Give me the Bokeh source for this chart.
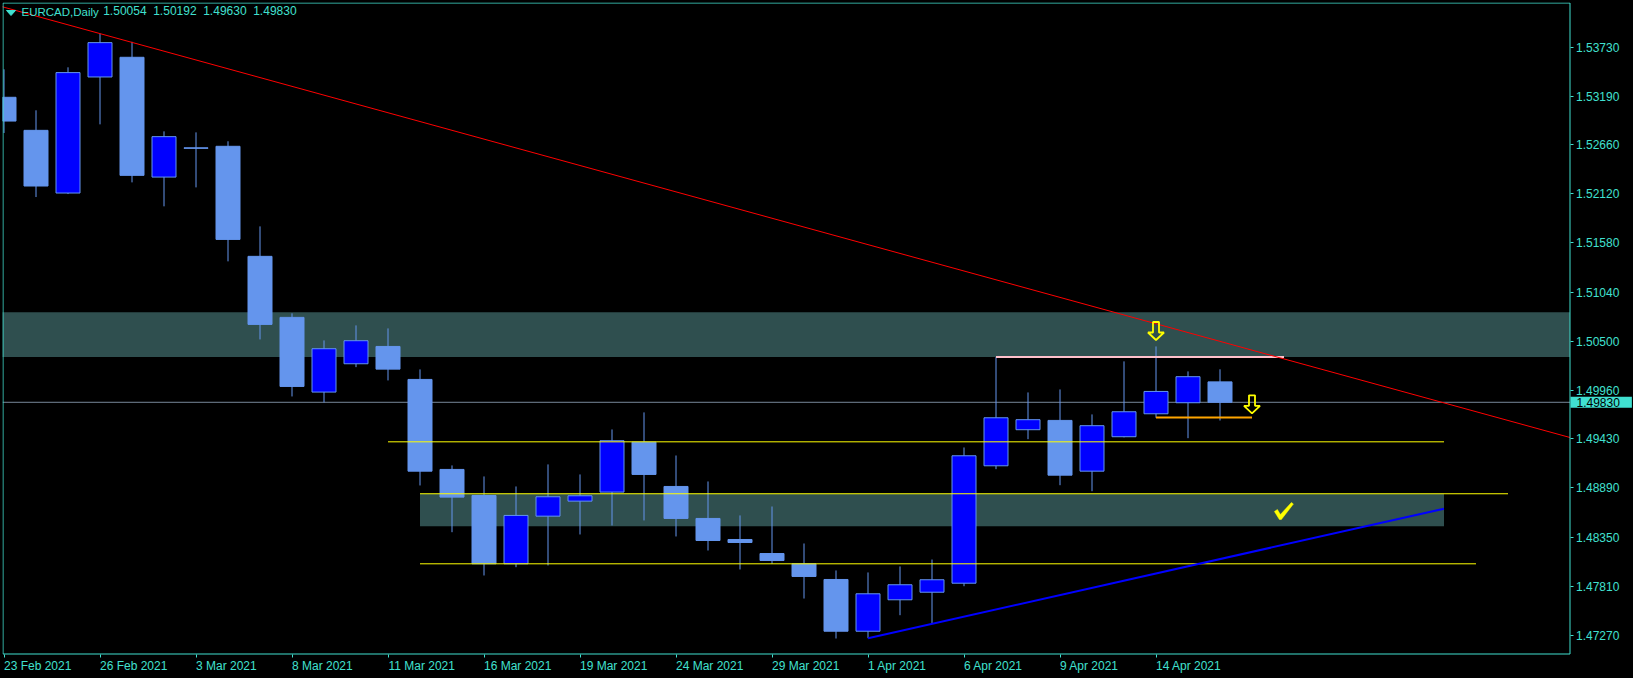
from bokeh.plotting import figure
from bokeh.models import Range1d, FixedTicker, PrintfTickFormatter, Label, LinearAxis
from bokeh.embed import file_html
from bokeh.resources import INLINE

# ---------------- data ----------------
symbol = "EURCAD,Daily"
dates = ["23 Feb 2021", "24 Feb 2021", "25 Feb 2021", "26 Feb 2021",
         "1 Mar 2021", "2 Mar 2021", "3 Mar 2021", "4 Mar 2021", "5 Mar 2021",
         "8 Mar 2021", "9 Mar 2021", "10 Mar 2021", "11 Mar 2021", "12 Mar 2021",
         "15 Mar 2021", "16 Mar 2021", "17 Mar 2021", "18 Mar 2021", "19 Mar 2021",
         "22 Mar 2021", "23 Mar 2021", "24 Mar 2021", "25 Mar 2021", "26 Mar 2021",
         "29 Mar 2021", "30 Mar 2021", "31 Mar 2021", "1 Apr 2021", "2 Apr 2021",
         "5 Apr 2021", "6 Apr 2021", "7 Apr 2021", "8 Apr 2021", "9 Apr 2021",
         "12 Apr 2021", "13 Apr 2021", "14 Apr 2021", "15 Apr 2021", "16 Apr 2021"]
opens = [1.53178, 1.52815, 1.52127, 1.53401, 1.53617, 1.52302, 1.52623, 1.52640, 1.51432,
         1.50762, 1.49942, 1.50253, 1.50443, 1.50081, 1.49093, 1.48807, 1.48057, 1.48580,
         1.48745, 1.48844, 1.49393, 1.48906, 1.48555, 1.48324, 1.48170, 1.48057, 1.47885,
         1.47317, 1.47662, 1.47745, 1.47844, 1.49133, 1.49529, 1.49631, 1.49074, 1.49452,
         1.49704, 1.49825, 1.50054]
highs = [1.53485, 1.53035, 1.53507, 1.53877, 1.53787, 1.52804, 1.52793, 1.52695, 1.51761,
         1.50806, 1.50509, 1.50674, 1.50641, 1.50191, 1.49137, 1.49016, 1.48906, 1.49148,
         1.49038, 1.49532, 1.49719, 1.49246, 1.48961, 1.48588, 1.48686, 1.48280, 1.47984,
         1.47962, 1.48028, 1.48104, 1.49334, 1.50326, 1.49938, 1.49971, 1.49697, 1.50279,
         1.50443, 1.50169, 1.50192]
lows = [1.52786, 1.52083, 1.52116, 1.52881, 1.52244, 1.51981, 1.52189, 1.51377, 1.50520,
        1.49894, 1.49828, 1.50216, 1.50070, 1.48917, 1.48404, 1.47929, 1.48020, 1.48039,
        1.48379, 1.48478, 1.48533, 1.48357, 1.48203, 1.47995, 1.48057, 1.47676, 1.47237,
        1.47240, 1.47493, 1.47398, 1.47811, 1.49096, 1.49425, 1.48920, 1.48854, 1.49445,
        1.49660, 1.49436, 1.49630]
closes = [1.52917, 1.52204, 1.53449, 1.53778, 1.52321, 1.52746, 1.52618, 1.51618, 1.50685,
          1.50004, 1.50418, 1.50506, 1.50194, 1.49074, 1.48789, 1.48057, 1.48588, 1.48793,
          1.48804, 1.49408, 1.49038, 1.48555, 1.48313, 1.48291, 1.48093, 1.47918, 1.47317,
          1.47728, 1.47827, 1.47882, 1.49243, 1.49660, 1.49639, 1.49030, 1.49573, 1.49726,
          1.49949, 1.50111, 1.49830]
price_ticks = [1.53730, 1.53190, 1.52660, 1.52120, 1.51580, 1.51040, 1.50500,
               1.49960, 1.49430, 1.48890, 1.48350, 1.47810, 1.47270]

# zones (bar index from/to, price top/bottom)
zone_from = [-5, 13]
zone_to = [60, 45]
zone_top = [1.50817, 1.48826]
zone_bottom = [1.50326, 1.48470]
# yellow horizontal levels
level_price = [1.49396, 1.48826, 1.48057]
level_from = [12, 13, 13]
level_to = [45, 47, 46]
# pink resistance and orange support
resist_price, resist_from, resist_to = 1.50326, 31, 40
support_price, support_from, support_to = 1.49663, 36, 39
# trendlines (anchor bars / prices)
red_x = [3, 36]
red_p = [1.53877, 1.50692]
blue_x = [27, 29]
blue_p = [1.47240, 1.47398]
blue_end = 45
# down arrows (bar, tip price) and check mark
arrow_x = [36, 39]
arrow_p = [1.50514, 1.49709]
check_x, check_p = 39.7, 1.48730

# ---------------- geometry ----------------
PXB = 32.0          # pixels per bar
PXP = 9110.0        # pixels per price unit
def xd(px):
    return (px - 3.5) / PXB
def pd(py):
    return 1.53730 - (py - 46.5) / PXP

X0, X1 = xd(2), xd(1633)
PT, PB = pd(2), pd(678)
XB = xd(1569.5)          # right border of the price chart
XL = xd(2.5)             # left border
YT, YB = pd(2.5), pd(653.5)   # top / bottom border
YAX = pd(654)            # time axis position

FG = "#40E0D0"
FONT = "Liberation Sans"

p = figure(width=1633, height=678, x_range=Range1d(X0, X1), y_range=Range1d(PB, PT),
           output_backend="svg", toolbar_location=None, y_axis_location="right",
           background_fill_color="black", border_fill_color="black",
           min_border_left=2, min_border_top=2, min_border_right=0, min_border_bottom=0)
p.outline_line_color = None
p.xgrid.visible = False
p.ygrid.visible = False

def style_axis(ax):
    ax.axis_line_color = None
    ax.major_tick_line_color = FG
    ax.minor_tick_line_color = None
    ax.major_tick_in = 0
    ax.major_tick_out = 3
    ax.major_label_text_color = FG
    ax.major_label_text_font = FONT
    ax.major_label_text_font_size = "12px"

n = len(dates)
idx = list(range(n))
tick_idx = list(range(0, n, 3))

# time axis: tick marks
xa = p.xaxis[0]
style_axis(xa)
xa.fixed_location = YAX
xa.ticker = FixedTicker(ticks=tick_idx)
xa.major_label_overrides = {i: "" for i in tick_idx}

# second time axis carrying the left-aligned date labels
W = {d: 0.556 for d in "0123456789"}
W.update({" ": 0.278, "F": 0.611, "e": 0.556, "b": 0.556, "M": 0.833, "a": 0.556,
          "r": 0.333, "A": 0.667, "p": 0.556})
def text_w(s, size=12):
    return sum(W.get(ch, 0.556) for ch in s) * size
lab_pos = [i + text_w(dates[i]) / 2 / PXB for i in tick_idx]
xl = LinearAxis(fixed_location=YAX)
style_axis(xl)
xl.major_tick_line_color = None
xl.major_tick_out = 0
xl.major_label_standoff = 4
xl.ticker = FixedTicker(ticks=lab_pos)
xl.major_label_overrides = {pos: dates[i] for pos, i in zip(lab_pos, tick_idx)}
p.add_layout(xl, "below")

# price axis drawn at the chart's right border
ya = p.yaxis[0]
style_axis(ya)
ya.fixed_location = XB
ya.ticker = FixedTicker(ticks=price_ticks)
ya.formatter = PrintfTickFormatter(format="%.5f")
ya.major_label_standoff = 3

# zones
p.quad(left=zone_from, right=[min(z, XB) for z in zone_to], top=zone_top, bottom=zone_bottom,
       fill_color="#2F4F4F", line_color=None)

# bid line
last = closes[-1]
p.segment(x0=[X0], x1=[XB], y0=[last], y1=[last], line_color="#778899", line_width=1)

# candles
wick_c = "#6495ED"
p.segment(x0=idx, x1=idx, y0=lows, y1=highs, line_color=wick_c, line_width=1)
body_top = [max(o, c) for o, c in zip(opens, closes)]
body_bot = [min(o, c) for o, c in zip(opens, closes)]
fills = ["#0000FF" if c > o else "#6495ED" for o, c in zip(opens, closes)]
p.vbar(x=idx, width=24 / PXB, top=body_top, bottom=body_bot,
       fill_color=fills, line_color=wick_c, line_width=1)

# yellow levels
p.segment(x0=level_from, x1=level_to, y0=level_price, y1=level_price,
          line_color="#FFFF00", line_width=1)
p.segment(x0=[resist_from], x1=[resist_to], y0=[resist_price], y1=[resist_price],
          line_color="#FFC0CB", line_width=2)
p.segment(x0=[support_from], x1=[support_to], y0=[support_price], y1=[support_price],
          line_color="#FFA500", line_width=2)

# red trendline (ray both sides, up to the price scale)
rs = (red_p[1] - red_p[0]) / (red_x[1] - red_x[0])
rx = [X0 - 1, XB]
p.line(rx, [red_p[0] + rs * (x - red_x[0]) for x in rx], line_color="#FF0000", line_width=1)
# blue trendline
bs = (blue_p[1] - blue_p[0]) / (blue_x[1] - blue_x[0])
bx = [blue_x[0], blue_end]
p.line(bx, [blue_p[0] + bs * (x - blue_x[0]) for x in bx], line_color="#0000FF", line_width=2)

# arrows
shape = [(0, 0), (8, -7.5), (3, -7.5), (3, -18), (-3, -18), (-3, -7.5), (-8, -7.5)]
for ax_, ap_ in zip(arrow_x, arrow_p):
    p.patch([ax_ + dx / PXB for dx, dy in shape], [ap_ - dy / PXP for dx, dy in shape],
            fill_alpha=0, line_color="#FFFF00", line_width=1.8)

# check mark
chk = [(0, 9), (3, 7), (6, 12), (17, 0), (19, 1.5), (7, 17), (5, 17)]
p.patch([check_x + dx / PXB for dx, dy in chk], [check_p - dy / PXP for dx, dy in chk],
        fill_color="#FFFF00", line_color="#FFFF00", line_width=0.5)

# chart border: left, top, bottom, right
p.segment(x0=[XL, XL, XL, XB], x1=[XL, XB, XB, XB], y0=[YT, YT, YB, YT],
          y1=[YB, YT, YB, YB], line_color=FG, line_width=1)

# header
p.patch([xd(6), xd(15), xd(10.5)], [pd(10), pd(10), pd(15)], fill_color=FG, line_color=FG)
p.add_layout(Label(x=xd(21), y=pd(5.5), text=symbol, text_color=FG, text_font=FONT,
                   text_font_size="11.5px", text_baseline="top"))
ohlc = [opens[-1], highs[-1], lows[-1], closes[-1]]
for k, v in enumerate(ohlc):
    p.add_layout(Label(x=xd(102.7 + 50 * k), y=pd(5), text=f"{v:.5f}", text_color=FG,
                       text_font=FONT, text_font_size="12px", text_baseline="top"))

# current price tag on the price scale (padding: left, right, top, bottom)
p.add_layout(Label(x=xd(1570), y=last, text=f"{last:.5f}", text_color="black",
                   text_font=FONT, text_font_size="12px", text_baseline="middle",
                   background_fill_color=FG, padding=(6, 12, 1, 1)))

html = file_html(p, INLINE, title=symbol)
html = html.replace("<head>", "<head><style>html,body{margin:0;padding:0;overflow:hidden;background:#000;}</style>", 1)
open("out.html", "w").write(html)
